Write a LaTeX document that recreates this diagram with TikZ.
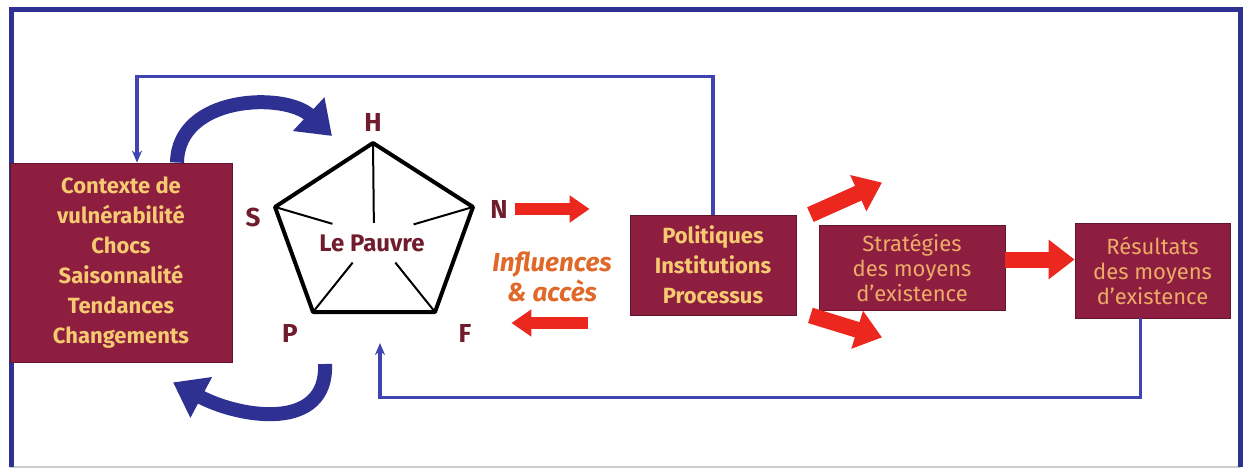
\documentclass[tikz,border=0pt]{standalone}
\usepackage{fontspec}
\setmainfont{Fira Sans}
\usetikzlibrary{positioning,calc,arrows.meta}
\definecolor{bordeaux}{RGB}{142,30,64}
\definecolor{jaune}{RGB}{246,202,112}
\definecolor{orangeclair}{RGB}{236,172,104}
\definecolor{lettreR}{RGB}{112,28,44}
\definecolor{bleuF}{RGB}{46,49,146}
\definecolor{bleuT}{RGB}{63,68,176}
\definecolor{rougeF}{RGB}{236,40,30}
\definecolor{orangeT}{RGB}{224,104,40}

\begin{document}
\begin{tikzpicture}[x=0.5pt,y=-0.5pt,
	boite/.style={
		draw=bordeaux!70!black,
		fill=bordeaux,
		text=jaune,
		align=center,
		inner sep=2pt,
		font=\bfseries\fontsize{11}{15}\selectfont
	},
	boiteB/.style={
		boite,
		text=orangeclair,
		font=\fontsize{11}{12.5}\selectfont
	},
	lettre/.style={
		text=lettreR,
		font=\bfseries\fontsize{13}{15}\selectfont
	},
	fleche/.style={
		draw=rougeF,
		line width=6pt,
		-{Triangle[length=10pt,width=13pt]}
	},
	flecheG/.style={
		fleche,
		line width=8pt,
		-{Triangle[length=13pt,width=19pt]}
	},
	boucle/.style={
		draw=bleuF,
		line width=7pt,
		-{Triangle[length=16pt,width=22pt]}
	},
	retour/.style={
		draw=bleuT,
		line width=1.8pt,
		-{Stealth[length=6pt,width=5pt]}
	}
	]
	\useasboundingbox (0,0) rectangle (1245,470);
	% cadre
	\draw[gray!40,line width=0.6pt] (10,467) -- (1241,467);
	\draw[bleuF,line width=2.5pt] (11,467) -- (11,10) -- (1240,10) -- (1240,467);
	
	% boites
	\node[boite,minimum width=111pt,minimum height=99.5pt] (ctx) at (121,262.5)
	{Contexte de\\vulnérabilité\\Chocs\\Saisonnalité\\Tendances\\Changements};
	\node[boite,minimum width=83pt,minimum height=50pt] (pic) at (713,265)
	{Politiques\\Institutions\\Processus};
	\node[boiteB,minimum width=93pt,minimum height=42.5pt] (strat) at (912,267.5)
	{Stratégies\\des moyens\\d'existence};
	\node[boiteB,minimum width=77.5pt,minimum height=47.5pt] (res) at (1152.5,270.5)
	{Résultats\\des moyens\\d'existence};
	
	% pentagone
	\coordinate (c) at (374,236);
	\coordinate (pH) at (373,143);
	\coordinate (pS) at (275,207);
	\coordinate (pN) at (473,207);
	\coordinate (pP) at (313,312);
	\coordinate (pF) at (435,312);
	\draw[line width=2pt,line join=round] (pH) -- (pN) -- (pF) -- (pP) -- (pS) -- cycle;
	\foreach \v/\f in {pH/0.14,pS/0.42,pN/0.40,pP/0.35,pF/0.35}
	\draw[line width=1pt] (\v) -- ($(c)!\f!(\v)$);
	\node[text=lettreR,font=\bfseries\fontsize{12}{14}\selectfont] (pauvre) at (372,243) {Le Pauvre};
	
	\node[lettre] (lH) at (373,122) {H};
	\node[lettre] (lS) at (253,217) {S};
	\node[lettre] (lN) at (499,209) {N};
	\node[lettre] (lP) at (290,333) {P};
	\node[lettre] (lF) at (465,333) {F};
	
	\node[text=orangeT,align=center,font=\bfseries\itshape\fontsize{13}{15}\selectfont] (infl) at (552,277)
	{Influences\\\& accès};
	
	% fleches bleues
	\coordinate (hautB) at (332,136);
	\coordinate (basB) at (325,364);
	\draw[boucle] ([xshift=28pt]ctx.north) .. controls (178,95) and (285,92) .. (hautB);
	\draw[boucle] (basB) .. controls (328,432) and (240,418) .. ([xshift=26pt,yshift=-10pt]ctx.south);
	
	\coordinate (pauvreB) at (380,343);
	\draw[retour] (pic.north) -- ++(0,-138) -| ([xshift=8pt]ctx.north);
	\draw[retour] ([xshift=-6pt]res.south) -- ++(0,79) -| (pauvreB);
	
	% fleches rouges
	\coordinate (fG) at ([yshift=5pt]lF.east);
	\draw[fleche,shorten >=20pt] (lN.east) -- (lN.east -| pic.west);
	\draw[fleche,shorten <=21pt,shorten >=16.5pt] (fG -| pic.west) -- (fG);
	\draw[flecheG] ([xshift=7pt]pic.north east) -- ([xshift=-15pt,yshift=21pt]strat.north);
	\draw[flecheG] ([xshift=7pt]pic.south east) -- ([xshift=-15pt,yshift=-13.5pt]strat.south);
	\draw[flecheG] ([yshift=4pt]strat.east) -- ([yshift=4pt]strat.east -| res.west);
\end{tikzpicture}
\end{document}
